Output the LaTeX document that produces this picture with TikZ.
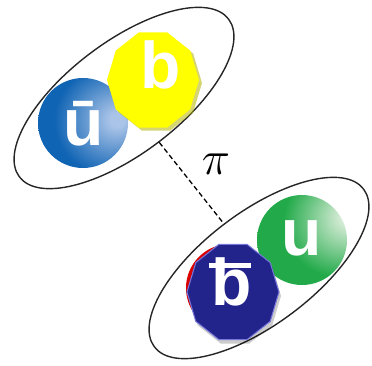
\documentclass[tikz,border=0pt]{standalone}
\usepackage{fontspec}
\setmainfont{Liberation Sans}
\usetikzlibrary{shapes.geometric}

\definecolor{ublue}{RGB}{16,100,180}
\definecolor{ubluehi}{RGB}{170,196,232}
\definecolor{ugreen}{RGB}{34,170,74}
\definecolor{ugreenhi}{RGB}{214,236,214}
\definecolor{bnavy}{RGB}{35,35,140}
\definecolor{bedge}{RGB}{120,120,220}
\definecolor{byellow}{RGB}{255,255,0}

% quark balls, lit from the right
\pgfdeclareradialshading{ballblue}{\pgfpoint{20bp}{2bp}}{color(0bp)=(ubluehi); color(4bp)=(ubluehi); color(30bp)=(ublue); color(100bp)=(ublue)}
\pgfdeclareradialshading{ballgreen}{\pgfpoint{28bp}{14bp}}{color(0bp)=(ugreenhi); color(5bp)=(ugreenhi); color(30bp)=(ugreen); color(100bp)=(ugreen)}

\tikzset{
  orbit/.style={ellipse, draw=black!85, line width=1.4pt, minimum width=262pt,
    minimum height=112pt, inner sep=0pt, rotate=37},
  ball/.style={circle, minimum size=90pt, inner sep=0pt},
  facet/.style={regular polygon, regular polygon sides=10, minimum size=100pt,
    inner sep=0pt, xscale=0.92},
  flavour/.style={text=white, inner sep=0pt, font=\fontsize{66}{66}\selectfont\bfseries},
}

\begin{document}
\begin{tikzpicture}[x=1pt, y=1pt]
  \useasboundingbox (0,0) rectangle (372,-366);

  % the two mesons and the exchange between them
  \node[orbit] (bmeson) at (124,-98) {};
  \node[orbit] (bbarmeson) at (259,-268) {};
  \draw[line width=1.3pt, dash pattern=on 5pt off 3pt] (bmeson) -- (bbarmeson);
  \node[scale=2.3] (pi) at (216,-164) {\huge$\pi$};

  % upper meson: u-bar and b
  \node[ball, shading=ballblue] (ubar) at (83,-123) {};
  \node[facet, fill=byellow!70!black, opacity=0.55] (bshadow) at (156,-83) {};
  \node[facet, fill=byellow] (bq) at (153,-80) {};
  \node[flavour] (ubarlabel) at (84,-124) {ū};
  \node[flavour] (blabel) at (161,-65) {b};

  % lower meson: u and b-bar
  \node[ball, shading=ballgreen] (uq) at (302,-240) {};
  \node[circle, fill=red!85!black, minimum size=88pt] (bred) at (230,-288) {};
  \node[facet, fill=black, opacity=0.2] (bbarshadow) at (235,-296) {};
  \node[facet, fill=bnavy, draw=bedge, line width=1pt] (bbar) at (233,-292) {};
  \node[flavour] (ulabel) at (302,-238) {u};
  \node[flavour] (bbarlabel) at (232,-282)
    {\makebox[0pt][l]{\hspace{-0.04em}\rule[0.57em]{0.64em}{0.075em}}b};
\end{tikzpicture}
\end{document}
